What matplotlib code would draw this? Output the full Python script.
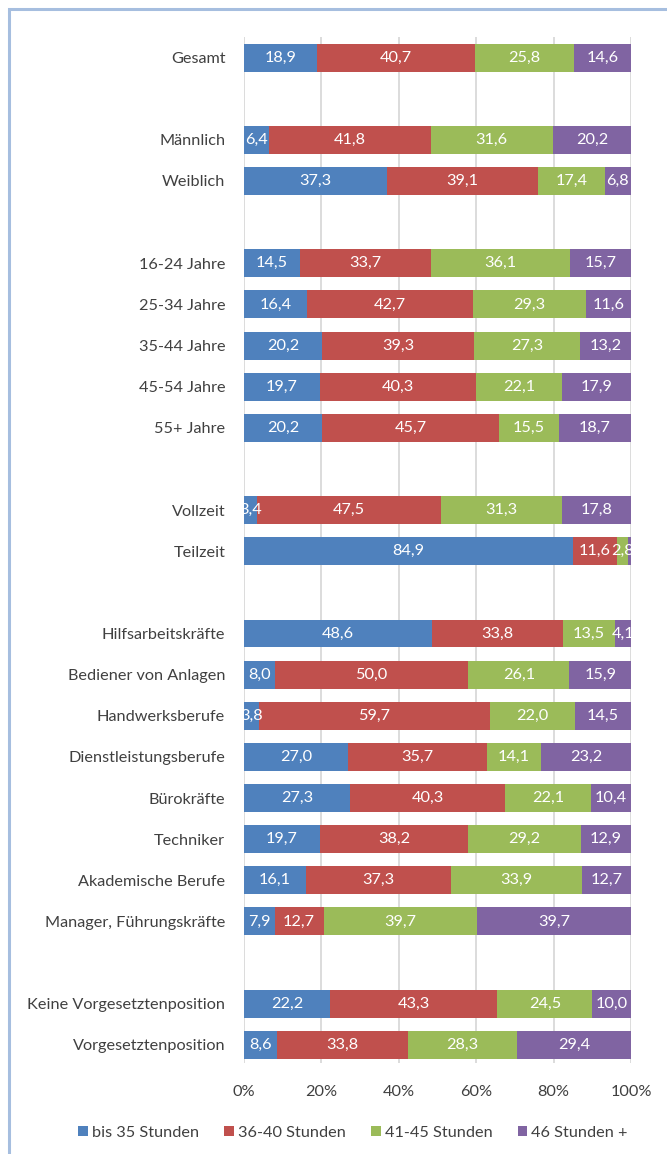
import matplotlib
matplotlib.use("Agg")
import matplotlib.pyplot as plt
import numpy as np
from matplotlib.patches import Rectangle, Patch

plt.rcParams['font.family'] = ['Lato', 'DejaVu Sans']

series = ["bis 35 Stunden", "36-40 Stunden", "41-45 Stunden", "46 Stunden +"]
colors = ["#4F81BD", "#C0504D", "#9BBB59", "#8064A2"]

groups = [
    ["Gesamt"],
    ["Männlich", "Weiblich"],
    ["16-24 Jahre", "25-34 Jahre", "35-44 Jahre", "45-54 Jahre", "55+ Jahre"],
    ["Vollzeit", "Teilzeit"],
    ["Hilfsarbeitskräfte", "Bediener von Anlagen", "Handwerksberufe",
     "Dienstleistungsberufe", "Bürokräfte", "Techniker", "Akademische Berufe",
     "Manager, Führungskräfte"],
    ["Keine Vorgesetztenposition", "Vorgesetztenposition"],
]

bis35 = [18.9, 6.4, 37.3, 14.5, 16.4, 20.2, 19.7, 20.2, 3.4, 84.9,
         48.6, 8.0, 3.8, 27.0, 27.3, 19.7, 16.1, 7.9, 22.2, 8.6]
h36_40 = [40.7, 41.8, 39.1, 33.7, 42.7, 39.3, 40.3, 45.7, 47.5, 11.6,
          33.8, 50.0, 59.7, 35.7, 40.3, 38.2, 37.3, 12.7, 43.3, 33.8]
h41_45 = [25.8, 31.6, 17.4, 36.1, 29.3, 27.3, 22.1, 15.5, 31.3, 2.8,
          13.5, 26.1, 22.0, 14.1, 22.1, 29.2, 33.9, 39.7, 24.5, 28.3]
h46p = [14.6, 20.2, 6.8, 15.7, 11.6, 13.2, 17.9, 18.7, 17.8, 0.7,
        4.1, 15.9, 14.5, 23.2, 10.4, 12.9, 12.7, 39.7, 10.0, 29.4]

# positions with a blank slot between groups
labels, pos = [], []
p = 0
for g in groups:
    for name in g:
        labels.append(name)
        pos.append(p)
        p += 1
    p += 1
pos = np.array(pos, dtype=float)

data = np.array([bis35, h36_40, h41_45, h46p], dtype=float)
share = data / data.sum(axis=0) * 100

FS = 11.7
fig = plt.figure(figsize=(6.67, 11.54), dpi=100)
ax = fig.add_axes([244/667, 1 - 1063/1154, (631-244)/667, (1063-37)/1154])

left = np.zeros(len(labels))
for i in range(4):
    ax.barh(pos, share[i], left=left, height=0.68, color=colors[i], zorder=3)
    for y, l, w, v in zip(pos, left, share[i], data[i]):
        if v >= 1:
            ax.text(l + w/2, y, f"{v:.1f}".replace(".", ","), ha="center", va="center",
                    color="white", fontsize=FS, zorder=4)
    left += share[i]

ax.set_xlim(0, 100)
ax.set_ylim(pos[-1] + 0.44, -0.5)
ax.set_yticks(pos)
ax.set_yticklabels(labels)
ax.set_xticks([0, 20, 40, 60, 80, 100])
ax.set_xticklabels(["0%", "20%", "40%", "60%", "80%", "100%"])
ax.tick_params(axis="y", length=0, pad=13.5, labelsize=FS, labelcolor="#404040")
ax.tick_params(axis="x", length=0, pad=16, labelsize=FS, labelcolor="#404040")
for s in ax.spines.values():
    s.set_visible(False)
ax.grid(axis="x", color="#D9D9D9", linewidth=1.3, zorder=0)
ax.set_axisbelow(True)

handles = [Patch(facecolor=c, label=s) for c, s in zip(colors, series)]
leg = fig.legend(handles=handles, loc="center", bbox_to_anchor=(0.529, 1 - 1133/1154),
                 ncol=4, frameon=False, fontsize=FS, handlelength=0.6, handleheight=0.6,
                 handletextpad=0.25, columnspacing=1.55)
for t in leg.get_texts():
    t.set_color("#404040")

fig.patches.append(Rectangle((9/667, -0.1), 1.2, 1 - 9/1154 + 0.1, transform=fig.transFigure,
                             fill=False, edgecolor="#A6BEDF", linewidth=2.2))

fig.savefig("out.png", dpi=100)
